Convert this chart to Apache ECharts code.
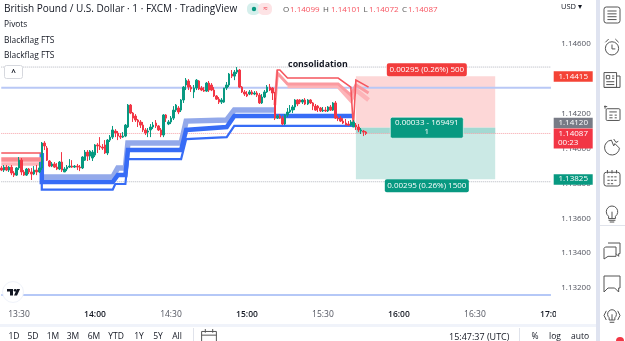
<!DOCTYPE html>
<html>
<head>
<meta charset="utf-8">
<style>html,body{margin:0;padding:0;background:#fff}#chart{width:625px;height:341px}</style>
<script src="https://cdn.jsdelivr.net/npm/echarts@6/dist/echarts.min.js"></script>
</head>
<body>
<div id="chart"></div>
<script>
// GBP/USD one-minute candles, 13:23 to 15:47 UTC
const opens = [
1.13889,1.13877,1.13894,1.13877,1.13894,1.13860,1.13848,1.13889,1.13934,1.13866,
1.13848,1.13883,1.13866,1.13854,1.13877,1.13866,1.13889,1.14032,1.14003,1.13929,
1.13900,1.13912,1.13894,1.13883,1.13923,1.13866,1.13883,1.13894,1.13900,1.13894,
1.13900,1.13894,1.13889,1.13934,1.13980,1.13957,1.13946,1.13963,1.14021,1.14015,
1.14009,1.14021,1.13975,1.14049,1.14066,1.14101,1.14089,1.14072,1.14066,1.14072,
1.14124,1.14250,1.14204,1.14187,1.14164,1.14153,1.14135,1.14107,1.14095,1.14107,
1.14124,1.14147,1.14130,1.14107,1.14078,1.14193,1.14141,1.14153,1.14175,1.14221,
1.14233,1.14221,1.14279,1.14365,1.14388,1.14353,1.14325,1.14348,1.14388,1.14348,
1.14336,1.14330,1.14376,1.14365,1.14336,1.14302,1.14284,1.14267,1.14267,1.14348,
1.14365,1.14428,1.14416,1.14439,1.14451,1.14353,1.14325,1.14313,1.14313,1.14325,
1.14313,1.14319,1.14307,1.14262,1.14296,1.14325,1.14353,1.14348,1.14290,1.14175,
1.14187,1.14175,1.14141,1.14193,1.14210,1.14221,1.14239,1.14279,1.14279,1.14267,
1.14279,1.14256,1.14279,1.14262,1.14244,1.14244,1.14233,1.14216,1.14221,1.14216,
1.14239,1.14221,1.14262,1.14175,1.14175,1.14158,1.14147,1.14141,1.14135,1.14124,
1.14135,1.14124,1.14101,1.14101,1.14095];
const closes = [
1.13877,1.13894,1.13877,1.13894,1.13860,1.13848,1.13889,1.13934,1.13866,1.13848,
1.13883,1.13866,1.13854,1.13877,1.13866,1.13889,1.14032,1.14015,1.13934,1.13900,
1.13912,1.13894,1.13883,1.13923,1.13877,1.13883,1.13894,1.13900,1.13894,1.13900,
1.13894,1.13889,1.13952,1.13980,1.13957,1.13986,1.13980,1.14021,1.14015,1.14009,
1.14003,1.13975,1.14049,1.14066,1.14107,1.14089,1.14072,1.14066,1.14072,1.14135,
1.14250,1.14204,1.14175,1.14164,1.14153,1.14135,1.14107,1.14089,1.14101,1.14124,
1.14135,1.14130,1.14107,1.14078,1.14193,1.14175,1.14153,1.14175,1.14221,1.14250,
1.14210,1.14279,1.14353,1.14393,1.14353,1.14342,1.14348,1.14393,1.14342,1.14336,
1.14330,1.14376,1.14336,1.14336,1.14302,1.14284,1.14267,1.14279,1.14348,1.14365,
1.14428,1.14416,1.14439,1.14451,1.14353,1.14325,1.14313,1.14302,1.14325,1.14313,
1.14319,1.14307,1.14262,1.14296,1.14325,1.14353,1.14336,1.14319,1.14175,1.14187,
1.14175,1.14141,1.14193,1.14210,1.14221,1.14239,1.14279,1.14256,1.14267,1.14279,
1.14256,1.14279,1.14262,1.14244,1.14221,1.14233,1.14216,1.14221,1.14216,1.14239,
1.14221,1.14262,1.14175,1.14170,1.14158,1.14147,1.14135,1.14135,1.14153,1.14153,
1.14124,1.14107,1.14107,1.14095,1.14087];
const highs = [
1.13900,1.13906,1.13906,1.13900,1.13906,1.13871,1.13894,1.13952,1.13946,1.13877,
1.13889,1.13889,1.13889,1.13900,1.13906,1.13923,1.14038,1.14043,1.14015,1.13934,
1.13923,1.13923,1.13917,1.13929,1.13980,1.13894,1.13906,1.13940,1.13934,1.13906,
1.13912,1.13906,1.13957,1.13992,1.13992,1.13992,1.13992,1.14026,1.14032,1.14066,
1.14026,1.14049,1.14055,1.14078,1.14130,1.14112,1.14101,1.14089,1.14095,1.14141,
1.14256,1.14256,1.14210,1.14198,1.14170,1.14164,1.14153,1.14118,1.14118,1.14141,
1.14153,1.14164,1.14135,1.14118,1.14198,1.14198,1.14164,1.14187,1.14244,1.14256,
1.14244,1.14284,1.14359,1.14405,1.14399,1.14365,1.14365,1.14399,1.14393,1.14359,
1.14353,1.14382,1.14388,1.14376,1.14353,1.14307,1.14296,1.14290,1.14348,1.14382,
1.14434,1.14451,1.14451,1.14468,1.14457,1.14359,1.14336,1.14330,1.14336,1.14336,
1.14330,1.14330,1.14319,1.14313,1.14336,1.14365,1.14371,1.14353,1.14325,1.14193,
1.14198,1.14187,1.14198,1.14233,1.14250,1.14250,1.14284,1.14284,1.14284,1.14284,
1.14290,1.14284,1.14284,1.14267,1.14256,1.14250,1.14239,1.14239,1.14239,1.14244,
1.14250,1.14267,1.14273,1.14187,1.14187,1.14175,1.14170,1.14158,1.14164,1.14164,
1.14147,1.14141,1.14118,1.14107,1.14101];
const lows = [
1.13871,1.13866,1.13871,1.13866,1.13848,1.13837,1.13843,1.13877,1.13848,1.13843,
1.13843,1.13854,1.13820,1.13848,1.13848,1.13860,1.13877,1.13992,1.13929,1.13894,
1.13894,1.13889,1.13877,1.13877,1.13866,1.13866,1.13871,1.13889,1.13889,1.13889,
1.13877,1.13871,1.13883,1.13929,1.13929,1.13934,1.13929,1.13952,1.13975,1.13992,
1.13992,1.13969,1.13963,1.14038,1.14055,1.14066,1.14049,1.14055,1.14061,1.14066,
1.14118,1.14198,1.14153,1.14153,1.14124,1.14118,1.14095,1.14078,1.14066,1.14066,
1.14112,1.14118,1.14101,1.14066,1.14066,1.14153,1.14135,1.14141,1.14164,1.14210,
1.14198,1.14210,1.14262,1.14336,1.14336,1.14325,1.14290,1.14336,1.14336,1.14330,
1.14325,1.14325,1.14325,1.14330,1.14296,1.14279,1.14256,1.14256,1.14262,1.14336,
1.14353,1.14405,1.14393,1.14428,1.14348,1.14319,1.14302,1.14296,1.14307,1.14307,
1.14307,1.14296,1.14256,1.14256,1.14290,1.14319,1.14330,1.14279,1.14164,1.14170,
1.14170,1.14135,1.14135,1.14181,1.14204,1.14204,1.14221,1.14244,1.14256,1.14256,
1.14250,1.14250,1.14256,1.14221,1.14216,1.14210,1.14210,1.14210,1.14210,1.14210,
1.14216,1.14216,1.14170,1.14158,1.14153,1.14141,1.14135,1.14130,1.14130,1.14124,
1.14107,1.14095,1.14084,1.14072,1.14078];

// Axis ticks
const priceTicks = [1.132,1.134,1.136,1.138,1.14,1.142,1.144,1.146];
const sessionStart = 13 * 60 + 23;
const minuteSlots = 218;

// Blackflag FTS trailing stop bands, as [minute slot, price] breakpoints
const blueOuter = [[16,1.13975],[16,1.13765],[44,1.13765],[45,1.13797],[49,1.13797],[50,1.13940],[71,1.13940],[73,1.14055],[89,1.14066],[92,1.14130],[139,1.14130]];
const blueMiddle = [[16,1.13975],[16,1.13808],[44,1.13808],[46,1.13848],[49,1.13848],[50,1.13992],[71,1.13992],[73,1.14107],[89,1.14124],[92,1.14187],[139,1.14187]];
const blueInner = [[16,1.13837],[44,1.13837],[46,1.13889],[49,1.13889],[50,1.14032],[71,1.14032],[73,1.14158],[89,1.14164],[92,1.14221],[108,1.14221]];
const redOuterEarly = [[0,1.13975],[16,1.13975]];
const redMiddleEarly = [[0,1.13937],[16,1.13937]];
const redInnerEarly = [[0,1.13912],[16,1.13912]];
const redOuter = [[108,1.14250],[109,1.14451],[110,1.14451],[113,1.14405],[133,1.14405],[138,1.14353],[139,1.14124],[140,1.14393],[145,1.14353]];
const redMiddle = [[108,1.14250],[109,1.14434],[113,1.14371],[133,1.14371],[138,1.14307],[140,1.14365],[145,1.14319]];
const redInner = [[113,1.14359],[133,1.14359],[138,1.14279],[140,1.14336],[145,1.14279]];

// Horizontal levels
const pivotLevel = 1.14349;
const pivotLowLevel = 1.13160;
const dottedHigh = 1.14468;
const dottedLow = 1.13810;
const lastPrice = 1.14087;

// Short position tool
const stopPrice = 1.14415;
const entryPrice = 1.14120;
const targetPrice = 1.13825;
const zoneFrom = 140;
const zoneTo = 195;

const GREEN = '#089981', RED = '#f23645', FONT = "'Open Sans'";

const categories = [];
for (let i = 0; i < minuteSlots; i++) {
  const t = sessionStart + i;
  categories.push(String(Math.floor(t / 60)) + ':' + String(t % 60).padStart(2, '0'));
}
const candles = opens.map((o, i) => [o, closes[i], lows[i], highs[i]]);

const bandLine = (data, color, width, z, type) => ({
  type: 'line', data, z, showSymbol: false, silent: true, animation: false,
  lineStyle: { color, width, type: type || 'solid', join: 'miter' }
});
const level = (price, color, width, type) =>
  bandLine([[0, price], [minuteSlots - 1, price]], color, width, 1, type);

const rectAt = (api, from, to, top, bottom, fill) => {
  const a = api.coord([from, top]), b = api.coord([to, bottom]);
  return { type: 'rect', shape: { x: a[0], y: a[1], width: b[0] - a[0], height: b[1] - a[1] }, style: { fill } };
};
const label = (x, y, text, fill, size, weight) => ({
  type: 'text', x, y,
  style: { text, fill, font: (weight || 'normal') + ' ' + (size || 8) + 'px ' + FONT,
           align: 'center', verticalAlign: 'middle', textAlign: 'center', textVerticalAlign: 'middle' }
});
const pill = (cx, top, w, h, fill, r) => ({
  type: 'rect', shape: { x: cx - w / 2, y: top, width: w, height: h, r: r === undefined ? 2 : r }, style: { fill }
});

// Profit and loss zones of the position
const zoneSeries = {
  type: 'custom', z: 0, silent: true, animation: false, data: [[zoneFrom, stopPrice]],
  renderItem: (p, api) => ({ type: 'group', children: [
    rectAt(api, zoneFrom, zoneTo, stopPrice, entryPrice, '#fdd7d7'),
    rectAt(api, zoneFrom, zoneTo, entryPrice, targetPrice, '#cbe9e5'),
    rectAt(api, zoneFrom, zoneTo, entryPrice, lastPrice, '#a3d9d2')
  ]})
};

// Labels of the position tool
const zoneLabelSeries = {
  type: 'custom', z: 8, silent: true, animation: false, clip: false, data: [[zoneFrom, stopPrice]],
  renderItem: (p, api) => {
    const cx = api.coord([(zoneFrom + zoneTo) / 2, stopPrice])[0];
    const yStop = api.coord([0, stopPrice])[1], yEntry = api.coord([0, entryPrice])[1], yTarget = api.coord([0, targetPrice])[1];
    return { type: 'group', children: [
      pill(cx, yStop - 13, 80, 13, '#f23c3c'),
      label(cx, yStop - 6.5, '0.00295 (0.26%) 500', '#fff'),
      { type: 'rect', shape: { x: cx - 36.5, y: yEntry - 10.5, width: 73, height: 21, r: 2 }, style: { fill: GREEN, stroke: '#fff', lineWidth: 0.6 } },
      label(cx, yEntry - 5, '0.00033 - 169491', '#fff'),
      label(cx, yEntry + 4.5, '1', '#fff'),
      pill(cx, yTarget, 84, 13, GREEN),
      label(cx, yTarget + 6.5, '0.00295 (0.26%) 1500', '#fff'),
      label(api.coord([125, stopPrice])[0], yStop - 12, 'consolidation', '#131722', 8.8, 'bold')
    ]};
  }
};

// Price scale tags
const tagSeries = {
  type: 'custom', z: 9, silent: true, animation: false, clip: false, data: [[0, stopPrice]],
  renderItem: (params, api) => {
    const cx = params.coordSys.x + params.coordSys.width + 21;
    const yOf = v => api.coord([0, v])[1];
    return { type: 'group', children: [
      pill(cx, yOf(stopPrice) - 5, 39, 10.5, '#f44336', 0),
      label(cx, yOf(stopPrice), stopPrice.toFixed(5), '#fff'),
      pill(cx, yOf(entryPrice) - 10, 39, 10.5, '#787b86', 0),
      label(cx, yOf(entryPrice) - 4.7, entryPrice.toFixed(5), '#fff'),
      pill(cx, yOf(lastPrice) - 5, 39, 20, RED, 0),
      label(cx, yOf(lastPrice), lastPrice.toFixed(5), '#fff'),
      label(cx - 5, yOf(lastPrice) + 9.5, '00:23', '#fff'),
      pill(cx, yOf(targetPrice) - 5, 39, 10.5, GREEN, 0),
      label(cx, yOf(targetPrice), targetPrice.toFixed(5), '#fff')
    ]};
  }
};

// Toolbar icon outlines
const ICON_X = 604;
const toolbarIcons = [
  ['M2 3h12v11H2zM2 6h12M5 1v3M11 1v3', 201, 329],
  ['M8 3l1.2 1.2 1.7-.3.5 1.6 1.6.5-.3 1.7L13.9 9l-1.2 1.2.3 1.7-1.6.5-.5 1.6-1.7-.3L8 15l-1.2-1.2-1.7.3-.5-1.6-1.6-.5.3-1.7L2.1 9l1.2-1.2L3 6.1l1.6-.5.5-1.6 1.7.3zM8 6.5a2.5 2.5 0 1 0 .01 0z', 567, 307],
  ['M3 1h10a2 2 0 0 1 2 2v10a2 2 0 0 1-2 2H3a2 2 0 0 1-2-2V3a2 2 0 0 1 2-2zM4 4.5h8M4 7h8M4 9.5h8M4 12h8', ICON_X, 7],
  ['M8 3.5a6 6 0 1 0 .01 0zM8 6v4h3M2 4l3-3M14 4l-3-3', ICON_X, 39],
  ['M1 2h11v13H1zM12 5h3v10H1M3 4.5h3v3H3zM8 5h2M8 7h2M3 10h7M3 12.5h7', ICON_X, 72],
  ['M3 4h11a1 1 0 0 1 1 1v9a1 1 0 0 1-1 1H3a1 1 0 0 1-1-1V5a1 1 0 0 1 1-1zM5 7h7M5 10h3M10 10h2M5 12.5h3M10 12.5h2M1 1v3M0 2h3', ICON_X, 105],
  ['M7 3a6.5 6.5 0 1 0 7 7l-4-4-1 2zM9 2l2 3 2-1', ICON_X, 139],
  ['M3 3h10a2 2 0 0 1 2 2v8a2 2 0 0 1-2 2H3a2 2 0 0 1-2-2V5a2 2 0 0 1 2-2zM4 1v3M8 1v3M12 1v3M4 7h2M7 7h2M10 7h2M4 10h2M7 10h2M10 10h2M4 13h2M7 13h2', ICON_X, 170],
  ['M8 1a5 5 0 0 0-3 9v2h6v-2a5 5 0 0 0-3-9zM5 13.5h6M6 15h4M8 6v6', ICON_X, 206],
  ['M5 3h9v8h-1v2l-2-2M3 6h8v7H5l-3 2V7z', ICON_X, 243],
  ['M2 3h12v9h-1v3l-3-3H5l-3 3z', ICON_X, 276],
  ['M8 2a4 4 0 0 0-2.5 7v2h5V9A4 4 0 0 0 8 2zM6 13h4M8 6v5M3 3l-2 4 2 4M13 3l2 4-2 4', ICON_X, 308]
];
const iconSeries = {
  type: 'custom', coordinateSystem: 'none', z: 20, silent: true, animation: false, data: [[0]],
  renderItem: () => ({ type: 'group', children: toolbarIcons.map(ic => ({
    type: 'path', z2: 100,
    shape: { pathData: ic[0], x: ic[1], y: ic[2], width: 16, height: 16, layout: 'center' },
    style: { fill: 'none', stroke: '#555', lineWidth: 1 }
  }))})
};

// Page furniture around the plot
const txt = (text, x, y, o) => {
  o = o || {};
  return { type: 'text', x, y, z: 60, silent: true, style: {
    text, fill: o.fill || '#131722', font: (o.weight || 'normal') + ' ' + (o.size || 8) + 'px ' + FONT,
    align: o.align || 'left', textAlign: o.align || 'left', verticalAlign: 'middle', textVerticalAlign: 'middle' } };
};
const box = (x, y, width, height, fill, r, stroke) => ({
  type: 'rect', z: 55, silent: true, shape: { x, y, width, height, r: r || 0 }, style: { fill, stroke: stroke || null, lineWidth: 1 }
});
const rangeButtons = [['1D',14],['5D',33],['1M',53],['3M',73],['6M',94],['YTD',116],['1Y',139],['5Y',158],['All',177]];
const ohlc = [['O',283,'1.14099',290],['H',323,'1.14101',331],['L',363.5,'1.14072',369],['C',402,'1.14087',408]];

const graphics = [
  box(556, 307, 40, 16, '#fff'),
  box(0, 324, 596, 3, '#f0f3fa'),
  box(596, 0, 4, 341, '#dfe3f0'),
  box(600, 225, 25, 1, '#e0e3eb'),
  txt('British Pound / U.S. Dollar · 1 · FXCM · TradingView', 4, 9, { size: 10 }),
  txt('Pivots', 4, 25, { size: 8.4 }),
  txt('Blackflag FTS', 4, 41, { size: 8.4 }),
  txt('Blackflag FTS', 4, 56, { size: 8.4 }),
  txt('USD ▾', 561, 6.5, { size: 7.5 }),
  box(4.5, 65.5, 18, 13, '#fff', 2, '#d6d8de'),
  txt('^', 13.5, 73, { align: 'center', size: 8, weight: 'bold' }),
  box(247, 3, 13, 12, '#d5efec', 5),
  box(258, 3, 14, 12, '#fde3e5', 5),
  { type: 'circle', z: 60, silent: true, shape: { cx: 254, cy: 9, r: 2.2 }, style: { fill: GREEN } },
  txt('≈', 265.5, 8.5, { align: 'center', fill: RED, size: 8 }),
  { type: 'circle', z: 60, silent: true, shape: { cx: 13, cy: 292, r: 10.5 }, style: { fill: '#fff', stroke: '#f0f3fa' } },
  { type: 'polygon', z: 61, silent: true, shape: { points: [[7,289],[13,289],[13,295.5],[10,295.5],[10,291.5],[7,291.5]] }, style: { fill: '#131722' } },
  { type: 'circle', z: 61, silent: true, shape: { cx: 15.2, cy: 290.3, r: 1.4 }, style: { fill: '#131722' } },
  { type: 'polygon', z: 61, silent: true, shape: { points: [[17,289],[20,289],[17,295.5],[14,295.5]] }, style: { fill: '#131722' } },
  txt('15:47:37 (UTC)', 449, 337, { size: 9 }),
  box(519, 328, 1, 13, '#e0e3eb'),
  box(193, 328, 1, 13, '#e0e3eb'),
  txt('%', 535, 337, { align: 'center', size: 8.5 }),
  txt('log', 555, 337, { align: 'center', size: 8.5 }),
  txt('auto', 580, 337, { align: 'center', size: 8.5 }),
  { type: 'circle', z: 60, silent: true, shape: { cx: 620, cy: 341, r: 4 }, style: { fill: RED } }
];
rangeButtons.forEach(b => graphics.push(txt(b[0], b[1], 337, { align: 'center', size: 8.5 })));
ohlc.forEach(o => {
  graphics.push(txt(o[0], o[1], 9.5, { fill: '#555', size: 8 }));
  graphics.push(txt(o[2], o[3], 9.5, { fill: '#f7525f', size: 8 }));
});

const chart = echarts.init(document.getElementById('chart'), null, { renderer: 'canvas' });
chart.setOption({
  animation: false,
  backgroundColor: '#fff',
  grid: { left: 0, top: 17.9, width: 552.2, height: 287.6, containLabel: false },
  xAxis: {
    type: 'category', data: categories, boundaryGap: true,
    axisLine: { show: false }, axisTick: { show: false }, splitLine: { show: false },
    axisLabel: {
      margin: 5, hideOverlap: false,
      interval: (i, v) => v.endsWith(':00') || v.endsWith(':30'),
      formatter: v => v.endsWith(':00') ? '{h|' + v + '}' : '{m|' + v + '}',
      rich: {
        h: { fontFamily: 'Open Sans', fontSize: 8.5, fontWeight: 600, color: '#131722' },
        m: { fontFamily: 'Open Sans', fontSize: 8.5, color: '#50535e' }
      }
    }
  },
  yAxis: {
    type: 'value', position: 'right', min: 1.1310, max: 1.1475, scale: true,
    axisLine: { show: false }, axisTick: { show: false }, splitLine: { show: false },
    axisLabel: { customValues: priceTicks, margin: 9, color: '#50535e', fontFamily: 'Open Sans', fontSize: 8, formatter: v => v.toFixed(5) }
  },
  series: [
    zoneSeries,
    level(dottedHigh, '#b2b5be', 1, 'dotted'),
    level(dottedLow, '#b2b5be', 1, 'dotted'),
    level(pivotLevel, '#b9c8f6', 2),
    bandLine([[0, pivotLowLevel], [minuteSlots - 1, pivotLowLevel]], '#9db6f5', 1.5, 1),
    level(lastPrice, '#f7a3aa', 1, 'dotted'),
    bandLine(blueInner, '#93a9ea', 5.5, 2),
    bandLine(blueMiddle, '#376cf6', 4.5, 3),
    bandLine(blueOuter, '#376cf6', 2.2, 3),
    bandLine(redInnerEarly, '#fdb4b8', 3.5, 2),
    bandLine(redMiddleEarly, '#fa8a90', 4.5, 3),
    bandLine(redOuterEarly, '#f5565e', 1.6, 3),
    bandLine(redInner, '#fdb4b8', 4.5, 2),
    bandLine(redMiddle, '#fb9aa0', 3, 3),
    bandLine(redOuter, '#f5565e', 1.6, 3),
    {
      type: 'candlestick', data: candles, z: 5, barWidth: 2, silent: true, animation: false,
      itemStyle: { color: GREEN, color0: RED, borderColor: GREEN, borderColor0: RED, borderWidth: 1 }
    },
    zoneLabelSeries,
    tagSeries,
    iconSeries
  ],
  graphic: { elements: graphics }
});
</script>
</body>
</html>
